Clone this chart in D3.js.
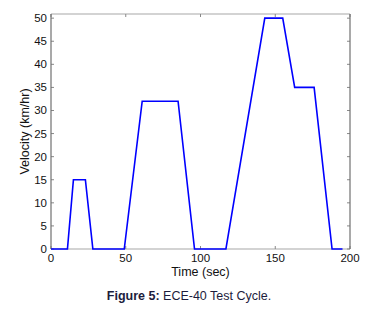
<!DOCTYPE html>
<html lang="en">
<head>
<meta charset="UTF-8">
<title>ECE-40 Test Cycle</title>
<script src="https://cdn.jsdelivr.net/npm/d3@7"></script>
<style>
  body { margin: 0; background: #fff; }
  text { font-family: "Liberation Sans", Arial, sans-serif; }
</style>
</head>
<body>
<div id="chart"></div>
<script>
// drive cycle breakpoints (time in sec, velocity in km/hr)
var times      = [0, 11, 15, 23, 28, 49, 61, 85, 96, 117, 143, 155, 163, 176, 188, 195];
var velocities = [0, 0, 15, 15, 0, 0, 32, 32, 0, 0, 50, 50, 35, 35, 0, 0];
var xTicks = [0, 50, 100, 150, 200];
var yTicks = [0, 5, 10, 15, 20, 25, 30, 35, 40, 45, 50];

var width = 372, height = 310;
var margin = {top: 14, right: 22, bottom: 61, left: 51};
var chartWidth = width - margin.left - margin.right;
var chartHeight = height - margin.top - margin.bottom;

var svg = d3.select("#chart").append("svg")
    .attr("width", width)
    .attr("height", height);

var g = svg.append("g")
    .attr("transform", "translate(" + margin.left + "," + margin.top + ")");

var xScale = d3.scaleLinear().domain([0, 200]).range([0, chartWidth]);
var yScale = d3.scaleLinear().domain([0, 50.9]).range([chartHeight, 0]);

var data = times.map(function(t, i) { return {t: t, v: velocities[i]}; });

// box: top/bottom light, left/right darker
g.append("line").attr("x1", 0).attr("x2", chartWidth).attr("y1", 0).attr("y2", 0)
    .attr("stroke", "#c4c4c4").attr("stroke-width", 1.5);
g.append("line").attr("x1", 0).attr("x2", chartWidth).attr("y1", chartHeight).attr("y2", chartHeight)
    .attr("stroke", "#c4c4c4").attr("stroke-width", 1.5);

// inward ticks
var tickLen = 3;
g.selectAll(".xt-bottom").data(xTicks).join("line")
    .attr("x1", d => xScale(d)).attr("x2", d => xScale(d))
    .attr("y1", chartHeight).attr("y2", chartHeight - tickLen)
    .attr("stroke", "#888");
g.selectAll(".xt-top").data(xTicks).join("line")
    .attr("x1", d => xScale(d)).attr("x2", d => xScale(d))
    .attr("y1", 0).attr("y2", tickLen)
    .attr("stroke", "#888");
g.selectAll(".yt-left").data(yTicks).join("line")
    .attr("x1", 0).attr("x2", tickLen)
    .attr("y1", d => yScale(d)).attr("y2", d => yScale(d))
    .attr("stroke", "#888");
g.selectAll(".yt-right").data(yTicks).join("line")
    .attr("x1", chartWidth).attr("x2", chartWidth - tickLen)
    .attr("y1", d => yScale(d)).attr("y2", d => yScale(d))
    .attr("stroke", "#888");

// left / right axis lines
g.append("line").attr("x1", 0).attr("x2", 0).attr("y1", 0).attr("y2", chartHeight)
    .attr("stroke", "#707070").attr("stroke-width", 1.2);
g.append("line").attr("x1", chartWidth).attr("x2", chartWidth).attr("y1", 0).attr("y2", chartHeight)
    .attr("stroke", "#707070").attr("stroke-width", 1.2);

// tick labels
g.selectAll(".xl").data(xTicks).join("text")
    .attr("x", d => xScale(d)).attr("y", chartHeight + 13)
    .attr("text-anchor", "middle")
    .attr("font-size", 11.5).attr("fill", "#111")
    .text(d => d);
g.selectAll(".yl").data(yTicks).join("text")
    .attr("x", -4).attr("y", d => yScale(d) + 4)
    .attr("text-anchor", "end")
    .attr("font-size", 11.5).attr("fill", "#111")
    .text(d => d);

// the cycle line
var line = d3.line().x(d => xScale(d.t)).y(d => yScale(d.v));
g.append("path").datum(data)
    .attr("d", line)
    .attr("fill", "none")
    .attr("stroke", "#0000ff")
    .attr("stroke-width", 1.6);

// axis labels
svg.append("text")
    .attr("x", margin.left + chartWidth / 2).attr("y", 276)
    .attr("text-anchor", "middle").attr("font-size", 12.5).attr("fill", "#111")
    .text("Time (sec)");
svg.append("text")
    .attr("transform", "translate(29," + (margin.top + chartHeight / 2) + ") rotate(-90)")
    .attr("text-anchor", "middle").attr("font-size", 12.5).attr("fill", "#111")
    .text("Velocity (km/hr)");

// caption
var cap = svg.append("text")
    .attr("x", 189).attr("y", 300)
    .attr("text-anchor", "middle").attr("font-size", 12.5).attr("fill", "#1c1c3c");
cap.append("tspan").attr("font-weight", "bold").text("Figure 5: ");
cap.append("tspan").text("ECE-40 Test Cycle.");
</script>
</body>
</html>
